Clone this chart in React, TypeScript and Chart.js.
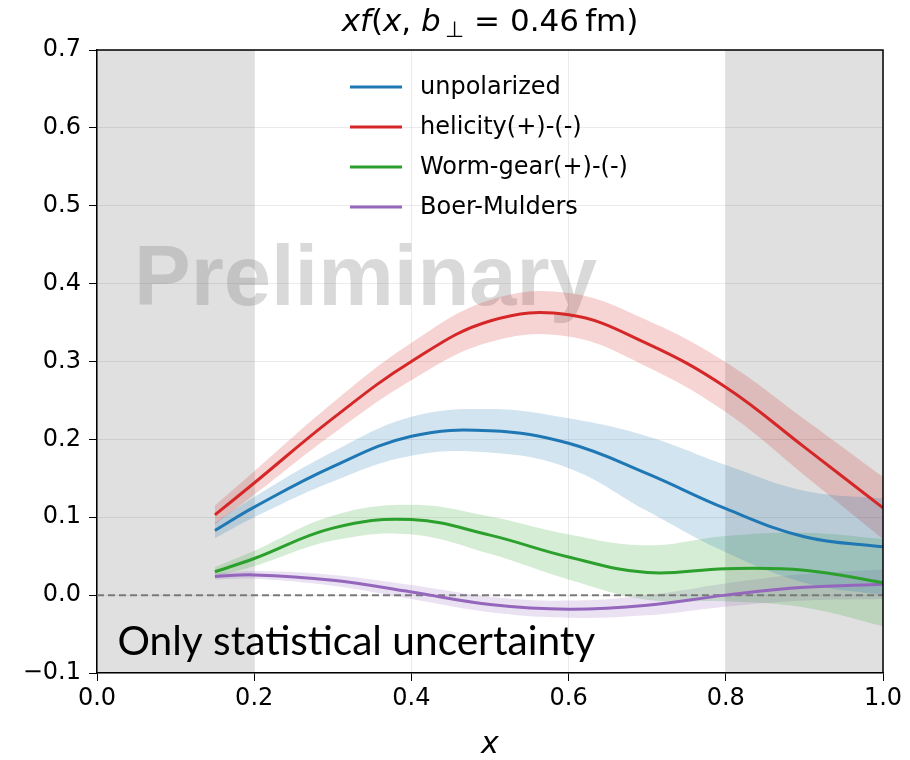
import { useEffect, useRef } from "react";
import { Chart, registerables } from "chart.js";

Chart.register(...registerables);

// ---------- data ----------
const X_VALUES = [0.15, 0.2, 0.3, 0.4, 0.5, 0.6, 0.7, 0.8, 0.9, 1.0];

const UNPOLARIZED = [0.083, 0.113, 0.165, 0.204, 0.211, 0.195, 0.156, 0.111, 0.075, 0.062];
const UNPOLARIZED_ERR = [0.010, 0.013, 0.019, 0.025, 0.028, 0.032, 0.048, 0.056, 0.059, 0.062];

const HELICITY = [0.103, 0.144, 0.227, 0.300, 0.352, 0.360, 0.323, 0.267, 0.190, 0.112];
const HELICITY_ERR = [0.012, 0.015, 0.020, 0.024, 0.027, 0.028, 0.030, 0.032, 0.036, 0.040];

const WORMGEAR = [0.030, 0.047, 0.086, 0.097, 0.077, 0.049, 0.029, 0.034, 0.032, 0.016];
const WORMGEAR_ERR = [0.006, 0.010, 0.016, 0.019, 0.024, 0.029, 0.035, 0.042, 0.048, 0.056];

const BOERMULDERS = [0.024, 0.026, 0.019, 0.004, -0.012, -0.018, -0.013, 0.000, 0.010, 0.014];
const BOERMULDERS_ERR = [0.004, 0.005, 0.007, 0.009, 0.010, 0.011, 0.013, 0.015, 0.017, 0.019];

const SERIES_LABELS = ["unpolarized", "helicity(+)-(-)", "Worm-gear(+)-(-)", "Boer-Mulders"];
const SERIES_COLORS = ["#1f77b4", "#d62728", "#2ca02c", "#9467bd"];
const BAND_COLORS = ["rgba(31,119,180,0.2)", "rgba(214,39,40,0.2)", "rgba(44,160,44,0.2)", "rgba(148,103,189,0.2)"];

const SHADED_RANGES = [[0, 0.2], [0.8, 1.0]];
const ZERO_LINE_X = [0, 1];
const ZERO_LINE_Y = [0, 0];

const X_MIN = 0, X_MAX = 1, X_STEP = 0.2;
const Y_MIN = -0.1, Y_MAX = 0.7, Y_STEP = 0.1;

const WATERMARK = "Preliminary";
const WATERMARK_POS = [0.047, 0.372];
const NOTE = "Only statistical uncertainty";
const NOTE_POS = [0.026, -0.077];
const X_LABEL = "x";

const SERIES = [
  { label: SERIES_LABELS[0], values: UNPOLARIZED, err: UNPOLARIZED_ERR },
  { label: SERIES_LABELS[1], values: HELICITY, err: HELICITY_ERR },
  { label: SERIES_LABELS[2], values: WORMGEAR, err: WORMGEAR_ERR },
  { label: SERIES_LABELS[3], values: BOERMULDERS, err: BOERMULDERS_ERR },
];

const FONT = "'DejaVu Sans', sans-serif";

export default function App() {
  const ref = useRef<HTMLCanvasElement | null>(null);

  useEffect(() => {
    const canvas = ref.current;
    if (!canvas) return;

    const lineSets: any[] = SERIES.map((s, i) => ({
      label: s.label,
      data: X_VALUES.map((x, k) => ({ x, y: s.values[k] })),
      borderColor: SERIES_COLORS[i],
      borderWidth: 3,
      pointRadius: 0,
      fill: false,
      tension: 0.4,
    }));

    const zeroSet: any = {
      label: "zero",
      data: ZERO_LINE_X.map((x, k) => ({ x, y: ZERO_LINE_Y[k] })),
      borderColor: "#7a7a7a",
      borderWidth: 2,
      borderDash: [7, 4],
      pointRadius: 0,
      fill: false,
    };

    const bandSets: any[] = [];
    SERIES.forEach((s, i) => {
      bandSets.push({
        label: s.label + " upper",
        data: X_VALUES.map((x, k) => ({ x, y: s.values[k] + s.err[k] })),
        borderWidth: 0,
        borderColor: "rgba(0,0,0,0)",
        backgroundColor: BAND_COLORS[i],
        pointRadius: 0,
        fill: "+1",
        tension: 0.4,
      });
      bandSets.push({
        label: s.label + " lower",
        data: X_VALUES.map((x, k) => ({ x, y: s.values[k] - s.err[k] })),
        borderWidth: 0,
        borderColor: "rgba(0,0,0,0)",
        pointRadius: 0,
        fill: false,
        tension: 0.4,
      });
    });

    const decorPlugin = {
      id: "decor",
      beforeDraw(chart: any) {
        const { ctx, chartArea, scales } = chart;
        ctx.save();
        ctx.fillStyle = "#e0e0e0";
        SHADED_RANGES.forEach(([a, b]) => {
          const x0 = scales.x.getPixelForValue(a);
          const x1 = scales.x.getPixelForValue(b);
          ctx.fillRect(x0, chartArea.top, x1 - x0, chartArea.bottom - chartArea.top);
        });
        ctx.restore();
      },
      beforeDatasetsDraw(chart: any) {
        const { ctx, scales } = chart;
        ctx.save();
        ctx.font = `bold 85px 'Liberation Sans', Arial, sans-serif`;
        ctx.fillStyle = "rgba(128,128,128,0.3)";
        ctx.textAlign = "left";
        ctx.textBaseline = "alphabetic";
        ctx.fillText(WATERMARK, scales.x.getPixelForValue(WATERMARK_POS[0]), scales.y.getPixelForValue(WATERMARK_POS[1]));
        ctx.restore();
      },
      afterDraw(chart: any) {
        const { ctx, chartArea, scales } = chart;
        ctx.save();
        // frame top & right
        ctx.strokeStyle = "#000";
        ctx.lineWidth = 1.5;
        ctx.beginPath();
        ctx.moveTo(chartArea.left, chartArea.top);
        ctx.lineTo(chartArea.right, chartArea.top);
        ctx.lineTo(chartArea.right, chartArea.bottom);
        ctx.stroke();

        // note text
        let size = 36;
        ctx.font = `${size}px Lato, 'Open Sans', sans-serif`;
        const w = ctx.measureText(NOTE).width;
        size = size * 478 / w;
        ctx.font = `${size}px Lato, 'Open Sans', sans-serif`;
        ctx.fillStyle = "#000";
        ctx.textAlign = "left";
        ctx.textBaseline = "alphabetic";
        ctx.fillText(NOTE, scales.x.getPixelForValue(NOTE_POS[0]), scales.y.getPixelForValue(NOTE_POS[1]));

        // legend
        ctx.font = `24px ${FONT}`;
        ctx.textBaseline = "middle";
        SERIES_LABELS.forEach((lab, i) => {
          const y = 87 + i * 40;
          ctx.strokeStyle = SERIES_COLORS[i];
          ctx.lineWidth = 3;
          ctx.beginPath();
          ctx.moveTo(350, y);
          ctx.lineTo(402, y);
          ctx.stroke();
          ctx.fillStyle = "#000";
          ctx.fillText(lab, 420, y + 1);
        });

        // title: xf(x, b⊥ = 0.46 fm)
        const base = 31;
        const fs = 31;
        const pieces: [string, string, number][] = [
          ["xf", `italic ${fs}px ${FONT}`, 0],
          ["(", `${fs}px ${FONT}`, 0],
          ["x", `italic ${fs}px ${FONT}`, 0],
          [", ", `${fs}px ${FONT}`, 0],
          ["b", `italic ${fs}px ${FONT}`, 0],
          ["\u2009\u22A5", `${Math.round(fs * 0.7)}px ${FONT}`, 6],
          [" = 0.46\u2009fm)", `${fs}px ${FONT}`, 0],
        ];
        let total = 0;
        pieces.forEach(([t, f]) => { ctx.font = f; total += ctx.measureText(t).width; });
        let x = (chartArea.left + chartArea.right) / 2 - total / 2;
        ctx.textBaseline = "alphabetic";
        ctx.textAlign = "left";
        pieces.forEach(([t, f, dy]) => {
          ctx.font = f;
          ctx.fillText(t, x, base + dy);
          x += ctx.measureText(t).width;
        });

        // x label
        ctx.font = `italic 30px ${FONT}`;
        ctx.textAlign = "center";
        ctx.fillText(X_LABEL, (chartArea.left + chartArea.right) / 2, 753);
        ctx.restore();
      },
    };

    const fmt = (v: number) => {
      const n = Math.abs(Number(v)) < 1e-9 ? 0 : Number(v);
      const s = n.toFixed(1);
      return s.startsWith("-") ? "\u2212" + s.slice(1) : s;
    };

    const chart = new Chart(canvas, {
      type: "line",
      data: { datasets: [...lineSets, zeroSet, ...bandSets] },
      options: {
        animation: false,
        responsive: false,
        maintainAspectRatio: false,
        layout: { padding: { top: 50, right: 27, left: 0, bottom: 0 } },
        plugins: {
          legend: { display: false },
          title: { display: false },
          tooltip: { enabled: false },
        },
        scales: {
          x: {
            type: "linear",
            min: X_MIN,
            max: X_MAX,
            ticks: {
              stepSize: X_STEP,
              font: { family: FONT, size: 24 },
              color: "#000",
              padding: 3,
              maxRotation: 0,
              callback: (v: any) => fmt(v),
            },
            grid: { color: "rgba(0,0,0,0.08)", tickColor: "#000", tickLength: 8, lineWidth: 1 },
            border: { color: "#000", width: 1.5 },
            afterFit: (s: any) => { s.height = 87; },
          },
          y: {
            type: "linear",
            min: Y_MIN,
            max: Y_MAX,
            ticks: {
              stepSize: Y_STEP,
              font: { family: FONT, size: 24 },
              color: "#000",
              padding: 8,
              callback: (v: any) => fmt(v),
            },
            grid: { color: "rgba(0,0,0,0.08)", tickColor: "#000", tickLength: 8, lineWidth: 1 },
            border: { color: "#000", width: 1.5 },
            afterFit: (s: any) => { s.width = 97; },
          },
        },
      },
      plugins: [decorPlugin],
    });

    return () => chart.destroy();
  }, []);

  return (
    <div style={{ position: "fixed", left: 0, top: 0, width: 910, height: 760, background: "#fff" }}>
      <canvas ref={ref} width={910} height={760} style={{ display: "block" }} />
    </div>
  );
}
